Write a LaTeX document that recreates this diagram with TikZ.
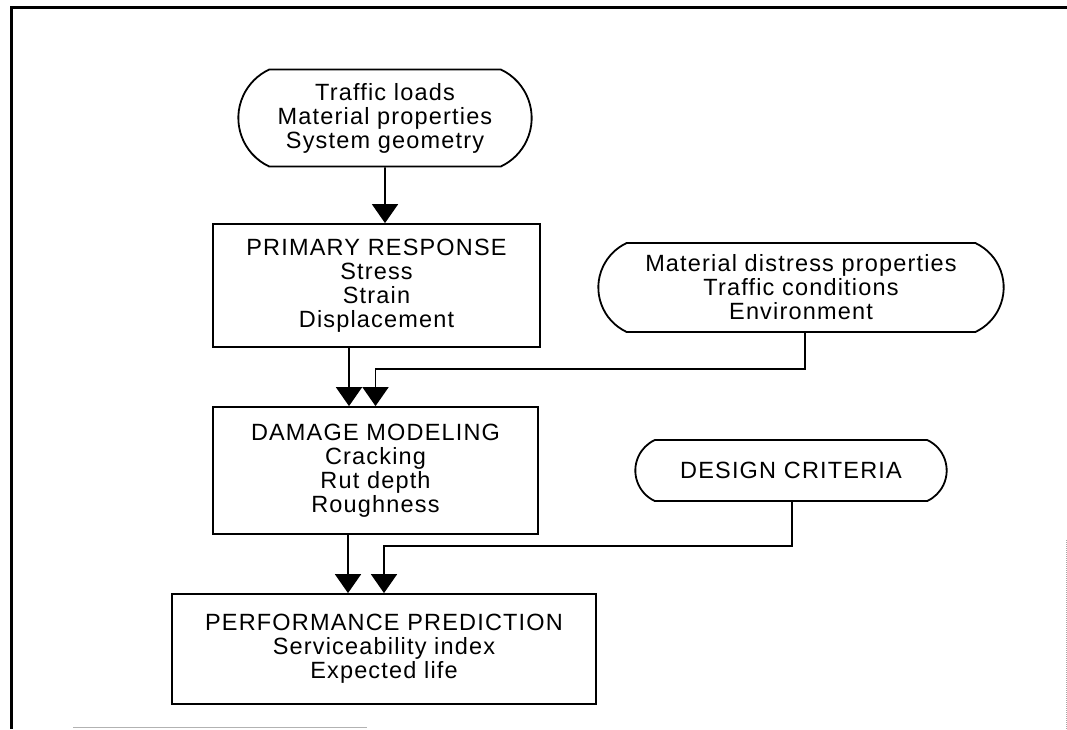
\documentclass[tikz,border=0pt]{standalone}
\usepackage{fontspec}
\setmainfont{Liberation Sans}[LetterSpace=5.0]
\usetikzlibrary{arrows.meta,shapes.misc}

\begin{document}
\begin{tikzpicture}[x=1pt, y=-1pt, line width=1.8pt, >={Triangle[width=26pt,length=19pt]}, block/.style={rectangle, draw, align=center, font=\fontsize{23.5}{24}\selectfont}, termnode/.style={rounded rectangle, rounded rectangle arc length=130, draw, align=center, font=\fontsize{23.5}{24}\selectfont}]

  \useasboundingbox (0,0) rectangle (1067,729);
  \draw[line width=3pt] (1067,7) -- (11,7) -- (11,729);
  \draw[gray!60, line width=1pt] (73,727) -- (367,727);
  \draw[gray!70, line width=1pt, densely dotted] (1066,540) -- (1066,729);

  \node[termnode, minimum width=300pt, minimum height=97pt] (traffic) at (385,118) {Traffic loads\\Material properties\\System geometry};
  \node[block, below of=traffic, node distance=167.5pt, xshift=-8.5pt, minimum width=327pt, minimum height=123pt] (primary) {PRIMARY RESPONSE\\Stress\\Strain\\Displacement};
  \node[termnode, right of=primary, node distance=424.5pt, yshift=-2pt, minimum width=412pt, minimum height=89pt] (material) {Material distress properties\\Traffic conditions\\Environment};
  \node[block, below of=primary, node distance=185pt, xshift=-1pt, minimum width=325pt, minimum height=127pt] (damage) {DAMAGE MODELING\\Cracking\\Rut depth\\Roughness};
  \node[termnode, right of=damage, node distance=415.5pt, minimum width=318pt, minimum height=61pt] (design) {DESIGN CRITERIA};
  \node[block, below of=damage, node distance=178.5pt, xshift=8.5pt, minimum width=424pt, minimum height=110pt] (perf) {PERFORMANCE PREDICTION\\Serviceability index\\Expected life};

  \coordinate (pr) at ([xshift=-27.5pt]primary.south);
  \coordinate (dm) at ([xshift=-27.5pt]damage.south);
  \coordinate (ma) at ([xshift=4pt]material.south);
  \coordinate (de) at ([xshift=1pt]design.south);

  \draw[->] (traffic) -- (traffic |- primary.north);
  \draw[->] (pr) -- (pr |- damage.north);
  \draw[->] (ma) |- ([yshift=37pt]damage.north) -- (damage.north);
  \draw[->] (dm) -- (dm |- perf.north);
  \draw[->] (de) |- ([yshift=47pt]perf.north) -- (perf.north);
  \end{tikzpicture}
\end{document}
